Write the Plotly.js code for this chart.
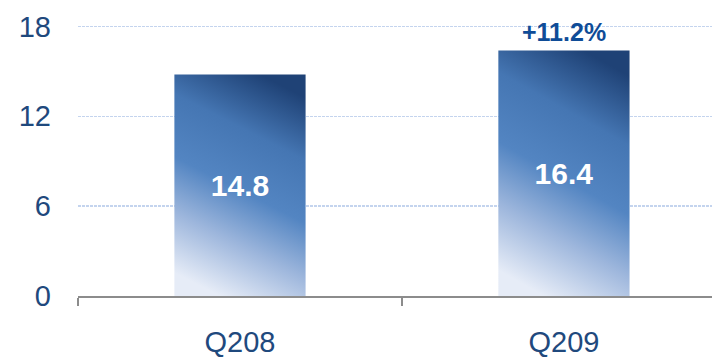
<!DOCTYPE html>
<html>
<head>
<meta charset="utf-8">
<script src="https://cdn.plot.ly/plotly-3.0.1.min.js"></script>
<style>html,body{margin:0;padding:0;background:#fff;}#chart{width:712px;height:361px;}</style>
</head>
<body>
<div id="chart"></div>
<script>
const categories = ['Q208', 'Q209'];
const values = [14.8, 16.4];
const valueLabels = ['14.8', '16.4'];
const growthLabels = ['', '+11.2%'];
const yTickVals = [0, 6, 12, 18];
const yTickText = ['0', '6', '12', '18'];

const FONT = 'Liberation Sans, Arial, sans-serif';
const NAVY = '#1f497d';

const trace = {
  type: 'bar',
  x: categories,
  y: values,
  width: 0.405,
  marker: {color: '#4f81bd', line: {width: 0}},
  text: valueLabels,
  texttemplate: '%{text}',
  textposition: 'inside',
  insidetextanchor: 'middle',
  textangle: 0,
  textfont: {family: FONT, size: 30, color: '#ffffff', weight: 'bold'},
  hoverinfo: 'none',
  cliponaxis: false
};

const annotations = [];
categories.forEach((c, i) => {
  if (growthLabels[i]) {
    annotations.push({
      x: c, y: values[i], xref: 'x', yref: 'y',
      text: '<b>' + growthLabels[i] + '</b>',
      showarrow: false, yanchor: 'bottom', yshift: 2,
      font: {family: FONT, size: 25, color: '#0f4c97'}
    });
  }
});

const layout = {
  width: 712, height: 361,
  margin: {l: 78, r: 0, t: 24.5, b: 65},
  paper_bgcolor: '#ffffff', plot_bgcolor: '#ffffff',
  showlegend: false,
  xaxis: {
    type: 'category',
    range: [-0.5, 1.457],
    showgrid: false, zeroline: false,
    showline: true, linecolor: '#8c8c8c', linewidth: 2,
    ticks: 'outside', tickson: 'boundaries', ticklen: 8, tickwidth: 2, tickcolor: '#8c8c8c',
    ticklabelstandoff: 19,
    tickfont: {family: FONT, size: 29, color: NAVY}
  },
  yaxis: {
    range: [0, 18.1],
    tickvals: yTickVals, ticktext: yTickText,
    showgrid: true, gridcolor: '#c4d4ee', griddash: '3px,1px', gridwidth: 1.5,
    zeroline: false, showline: false, ticks: '',
    ticklabelstandoff: 26,
    tickfont: {family: FONT, size: 29, color: NAVY}
  },
  annotations: annotations
};

function applyGradient(gd) {
  const svg = gd.querySelector('svg.main-svg');
  if (!svg) return;
  const NS = 'http://www.w3.org/2000/svg';
  let defs = svg.querySelector('defs');
  if (!defs) { defs = document.createElementNS(NS, 'defs'); svg.insertBefore(defs, svg.firstChild); }
  if (!svg.querySelector('#barGrad')) {
    const g = document.createElementNS(NS, 'linearGradient');
    g.setAttribute('id', 'barGrad');
    g.setAttribute('x1', '0.35'); g.setAttribute('y1', '1');
    g.setAttribute('x2', '0.65'); g.setAttribute('y2', '0');
    [[0, '#e6ecf7'], [0.25, '#9db6dc'], [0.48, '#5385c2'], [0.74, '#4576b3'], [1, '#1f4276']].forEach(([o, c]) => {
      const s = document.createElementNS(NS, 'stop');
      s.setAttribute('offset', o); s.setAttribute('stop-color', c);
      g.appendChild(s);
    });
    defs.appendChild(g);
  }
  gd.querySelectorAll('.bars .point path').forEach(p => { p.style.fill = 'url(#barGrad)'; });
}

const gd = document.getElementById('chart');
Plotly.newPlot(gd, [trace], layout, {staticPlot: true, displayModeBar: false}).then(() => {
  applyGradient(gd);
  gd.on('plotly_afterplot', () => applyGradient(gd));
});
</script>
</body>
</html>
